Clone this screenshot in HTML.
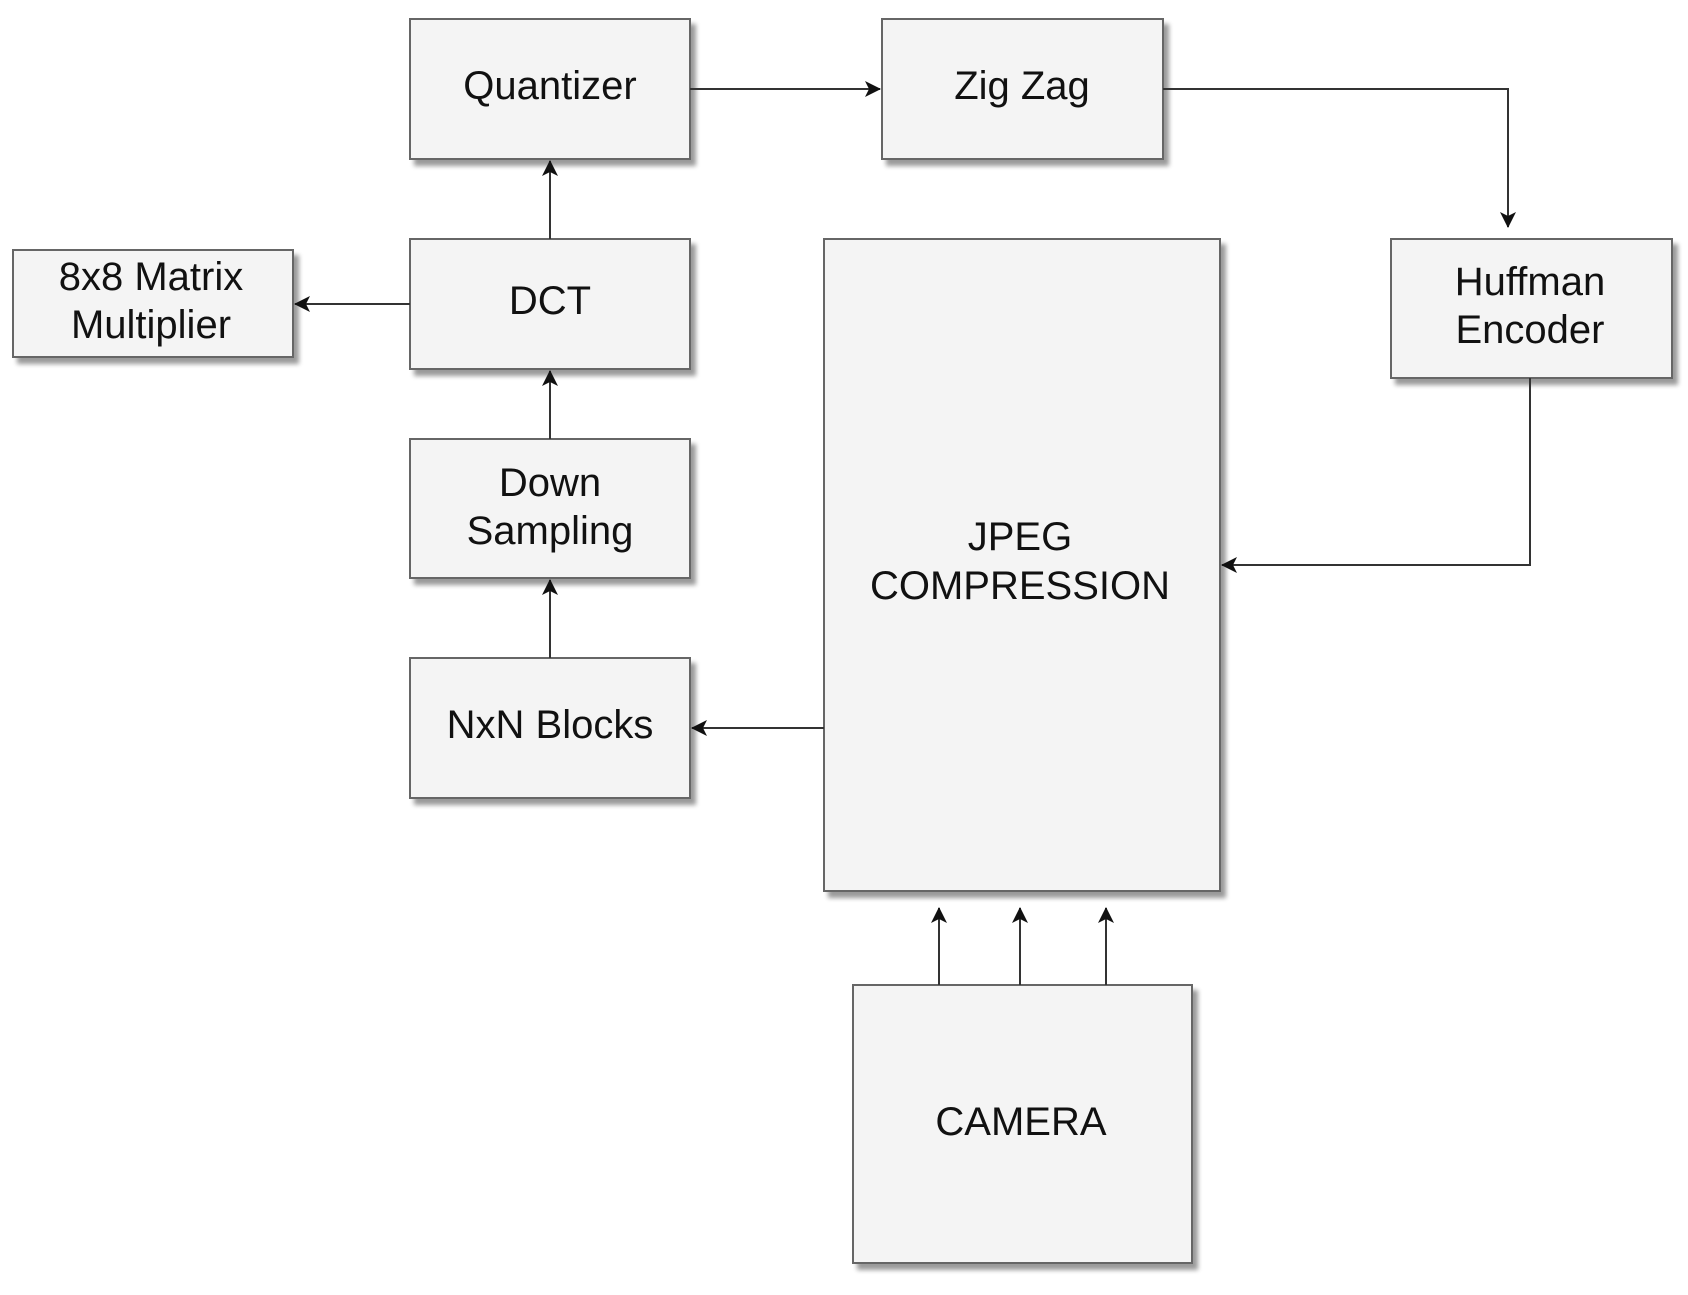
<!DOCTYPE html>
<html><head><meta charset="utf-8"><style>
html,body{margin:0;padding:0;background:#fff;}
svg text{font-family:"Liberation Sans",Arial,sans-serif;font-size:40px;fill:#111;text-anchor:middle;}
</style></head><body>
<svg width="1688" height="1290" viewBox="0 0 1688 1290" xmlns="http://www.w3.org/2000/svg">
<defs>
<filter id="sh" x="-10%" y="-10%" width="130%" height="130%">
<feGaussianBlur in="SourceAlpha" stdDeviation="2.5"/>
<feOffset dx="5" dy="6" result="o"/>
<feComponentTransfer><feFuncA type="linear" slope="0.4"/></feComponentTransfer>
<feMerge><feMergeNode/><feMergeNode in="SourceGraphic"/></feMerge>
</filter>
<marker id="ar" markerWidth="18" markerHeight="18" refX="15" refY="8" orient="auto" markerUnits="userSpaceOnUse">
<path d="M0,0 L16,8 L0,16 L4,8 Z" fill="#111"/>
</marker>
</defs>
<g fill="#f4f4f4" stroke="#666" stroke-width="2" filter="url(#sh)">
<rect x="410" y="19" width="280" height="140"/>
<rect x="882" y="19" width="281" height="140"/>
<rect x="410" y="239" width="280" height="130"/>
<rect x="13" y="250" width="280" height="107"/>
<rect x="410" y="439" width="280" height="139"/>
<rect x="410" y="658" width="280" height="140"/>
<rect x="824" y="239" width="396" height="652"/>
<rect x="1391" y="239" width="281" height="139"/>
<rect x="853" y="985" width="339" height="278"/>
</g>
<g stroke="#333" stroke-width="2" fill="none" marker-end="url(#ar)">
<line x1="690" y1="89" x2="880" y2="89"/>
<polyline points="1163,89 1508,89 1508,227"/>
<polyline points="1530,378 1530,565 1222,565"/>
<line x1="824" y1="728" x2="692" y2="728"/>
<line x1="410" y1="304" x2="295" y2="304"/>
<line x1="550" y1="239" x2="550" y2="161"/>
<line x1="550" y1="439" x2="550" y2="371"/>
<line x1="550" y1="658" x2="550" y2="580"/>
<line x1="939" y1="985" x2="939" y2="908"/>
<line x1="1020" y1="985" x2="1020" y2="908"/>
<line x1="1106" y1="985" x2="1106" y2="908"/>
</g>
<text x="550" y="99">Quantizer</text>
<text x="1022" y="99">Zig Zag</text>
<text x="550" y="314">DCT</text>
<text x="151" y="290">8x8 Matrix</text>
<text x="151" y="338">Multiplier</text>
<text x="550" y="496">Down</text>
<text x="550" y="544">Sampling</text>
<text x="550" y="738">NxN Blocks</text>
<text x="1020" y="550">JPEG</text>
<text x="1020" y="599">COMPRESSION</text>
<text x="1530" y="295">Huffman</text>
<text x="1530" y="343">Encoder</text>
<text x="1021" y="1135">CAMERA</text>
</svg>
</body></html>
